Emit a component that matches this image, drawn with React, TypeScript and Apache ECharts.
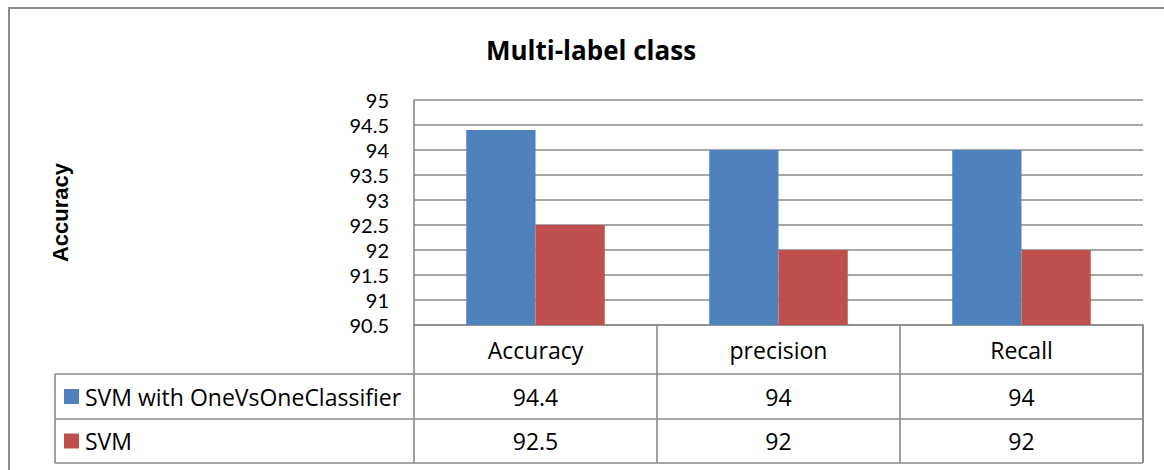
import React, { useEffect, useRef } from "react";
import * as echarts from "echarts";

const categories = ["Accuracy", "precision", "Recall"];
const seriesNames = ["SVM with OneVsOneClassifier", "SVM"];
const svmOvO = [94.4, 94, 94];
const svm = [92.5, 92, 92];
const seriesValues = [svmOvO, svm];
const seriesColors = ["#4F81BD", "#C0504D"];
const yMin = 90.5;
const yMax = 95;
const yStep = 0.5;
const chartTitle = "Multi-label class";
const yTitle = "Accuracy";

export default function App() {
  const ref = useRef<HTMLDivElement>(null);
  useEffect(() => {
    const chart = echarts.init(ref.current!, null, { renderer: "svg" });
    const gridLeft = 414;
    const gridTop = 100;
    const gridW = 729;
    const gridH = 225;
    const gridBottomY = gridTop + gridH;
    const rowCatBottom = gridBottomY + 49;
    const row1Bottom = rowCatBottom + 45;
    const row2Bottom = row1Bottom + 44;
    const legendLeft = 55;
    const font = "'Open Sans', Lato, sans-serif";
    const fs = 23;
    const lineColor = "#8a8a8a";
    const lw = 1.6;

    chart.setOption({
      animation: false,
      grid: { left: gridLeft, top: gridTop, width: gridW, height: gridH, containLabel: false },
      xAxis: {
        type: "category",
        data: categories,
        axisLine: { show: true, lineStyle: { color: lineColor, width: lw } },
        axisTick: { show: true, length: row2Bottom - gridBottomY, interval: 0, lineStyle: { color: lineColor, width: lw } },
        axisLabel: { show: true, margin: 13, fontSize: fs, color: "#000", fontFamily: font, interval: 0 },
      },
      yAxis: {
        type: "value",
        min: yMin,
        max: yMax,
        interval: yStep,
        name: yTitle,
        nameLocation: "middle",
        nameRotate: 90,
        nameGap: 343,
        nameTextStyle: { fontSize: 22, fontWeight: "bold", color: "#000", fontFamily: "'Liberation Sans', Arial, sans-serif" },
        axisLine: { show: true, lineStyle: { color: lineColor, width: lw } },
        axisTick: { show: false },
        axisLabel: { margin: 25, fontSize: 20, color: "#000", fontFamily: "Lato, 'Open Sans', sans-serif", lineHeight: 20 },
        splitLine: { show: true, lineStyle: { color: lineColor, width: lw } },
      },
      series: seriesNames.map((name, i) => ({
        type: "bar",
        name,
        data: seriesValues[i],
        barGap: "0%",
        barCategoryGap: "43%",
        itemStyle: { color: seriesColors[i] },
      })),
    });

    const centers = categories.map((c) => chart.convertToPixel({ xAxisIndex: 0 }, c) as number);
    const rightX = gridLeft + gridW;
    const rowCenters = [(rowCatBottom + row1Bottom) / 2, (row1Bottom + row2Bottom) / 2];

    const graphics: any[] = [
      {
        type: "rect",
        shape: { x: 9, y: 8, width: 1400, height: 700 },
        style: { fill: "none", stroke: "#8c8c8c", lineWidth: 2 },
        silent: true,
      },
      {
        type: "text",
        x: 591,
        y: 50,
        style: {
          text: chartTitle,
          fontSize: 26,
          fontWeight: "bold",
          fontFamily: font,
          fill: "#000",
          align: "center",
          verticalAlign: "middle",
        },
      },
    ];
    [rowCatBottom, row1Bottom, row2Bottom].forEach((y) => {
      graphics.push({
        type: "line",
        shape: { x1: legendLeft, y1: y, x2: rightX, y2: y },
        style: { stroke: lineColor, lineWidth: lw },
      });
    });
    graphics.push({
      type: "line",
      shape: { x1: legendLeft, y1: rowCatBottom, x2: legendLeft, y2: row2Bottom },
      style: { stroke: lineColor, lineWidth: lw },
    });
    graphics.push({
      type: "line",
      shape: { x1: rightX, y1: gridBottomY, x2: rightX, y2: row2Bottom },
      style: { stroke: lineColor, lineWidth: lw },
    });
    seriesNames.forEach((name, i) => {
      const cy = rowCenters[i];
      graphics.push({
        type: "rect",
        shape: { x: 64, y: cy - 7.5, width: 15, height: 15 },
        style: { fill: seriesColors[i] },
      });
      graphics.push({
        type: "text",
        x: 85,
        y: cy,
        style: { text: name, fontSize: fs, fontFamily: font, fill: "#000", align: "left", verticalAlign: "middle" },
      });
      seriesValues[i].forEach((v, j) => {
        graphics.push({
          type: "text",
          x: centers[j],
          y: cy,
          style: { text: String(v), fontSize: fs, fontFamily: font, fill: "#000", align: "center", verticalAlign: "middle" },
        });
      });
    });
    chart.setOption({ graphic: graphics });

    return () => chart.dispose();
  }, []);
  return <div ref={ref} style={{ position: "fixed", left: 0, top: 0, width: 1164, height: 470, background: "#fff" }} />;
}
